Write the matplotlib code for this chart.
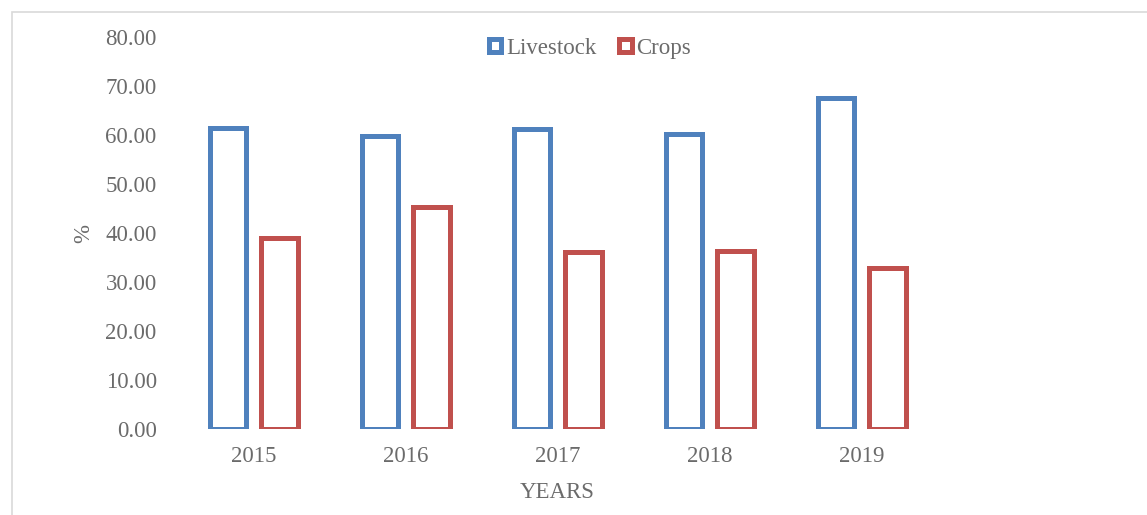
import numpy as np
import matplotlib.pyplot as plt
from matplotlib.patches import Rectangle

years = ["2015", "2016", "2017", "2018", "2019"]
livestock = [61.5, 59.9, 61.3, 60.3, 67.5]
crops = [39.0, 45.3, 36.2, 36.4, 32.9]

BLUE = "#4F81BD"
RED = "#C0504D"
GREY = "#6B6B6B"
FS = 16.5


def main():
    plt.rcParams["font.family"] = ["Liberation Serif", "DejaVu Serif"]
    fig = plt.figure(figsize=(11.47, 5.15), dpi=100)
    ax = fig.add_axes([0.1548, 0.167, 0.6626, 0.761])

    # outer chart border (light grey, runs off right and bottom)
    fig.patches.append(Rectangle((12 / 1147, -0.1), 1.2, 1.1 - 12 / 515,
                                 transform=fig.transFigure, fill=False,
                                 edgecolor="#D9D9D9", linewidth=1.2))

    x = np.arange(len(years))
    w = 0.243
    off = 0.168
    ax.bar(x - off, livestock, w, facecolor="white", edgecolor=BLUE,
           linewidth=3.6, label="Livestock")
    ax.bar(x + off, crops, w, facecolor="white", edgecolor=RED,
           linewidth=3.6, label="Crops")

    ax.set_xlim(-0.5, 4.5)
    ax.set_ylim(0, 80)
    ax.set_yticks(np.arange(0, 81, 10))
    ax.set_yticklabels([f"{v:.2f}" for v in np.arange(0, 81, 10)])
    ax.set_xticks(x)
    ax.set_xticklabels(years)
    ax.tick_params(axis="y", length=0, pad=15, labelsize=FS, labelcolor=GREY)
    ax.tick_params(axis="x", length=0, pad=12, labelsize=FS, labelcolor=GREY)
    for s in ax.spines.values():
        s.set_visible(False)

    ax.set_xlabel("YEARS", fontsize=FS, color=GREY, va="center")
    ax.xaxis.set_label_coords(0.5, -0.161)
    ax.set_ylabel("%", fontsize=FS, color=GREY, va="center")
    ax.yaxis.set_label_coords(-0.124, 0.5)

    leg = ax.legend(loc="center", bbox_to_anchor=((590 - 177.5) / 760, (429 - 48) / 392),
                    ncol=2, frameon=False, fontsize=FS, handlelength=0.55,
                    handleheight=0.55, handletextpad=0.2, columnspacing=1.0)
    for t in leg.get_texts():
        t.set_color(GREY)

    fig.savefig("out.png", dpi=100)


if __name__ == "__main__":
    main()
